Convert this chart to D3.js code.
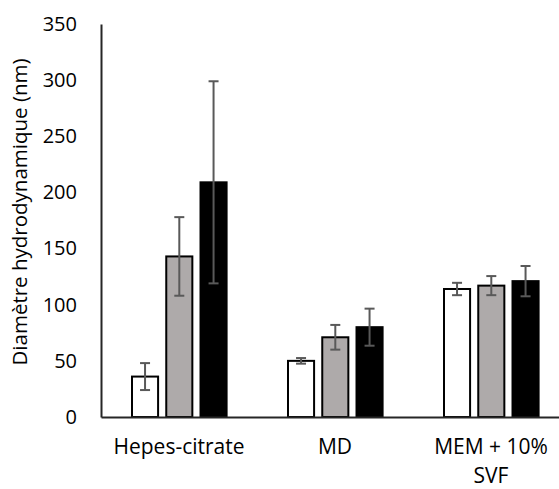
<!DOCTYPE html>
<html>
<head>
	<meta charset="utf-8">
	<title>Diametre hydrodynamique</title>
	<script src="https://d3js.org/d3.v7.min.js"></script>
	<style>
		body { margin: 0; background: #fff; }
		text { font-family: "Open Sans", sans-serif; fill: #000; }
	</style>
</head>
<body>
<script>
	// donnees
	var categories = ["Hepes-citrate", "MD", "MEM + 10% SVF"];
	var series = ["blanc", "gris", "noir"];
	var seriesColors = ["#ffffff", "#aeaaaa", "#000000"];
	var values = [
		[36, 50, 114],
		[143, 71, 117],
		[209, 80, 121]
	];
	var errors = [
		[12, 2.5, 5.5],
		[35, 11, 8.5],
		[90, 16.5, 13.5]
	];
	var yTicks = [0, 50, 100, 150, 200, 250, 300, 350];

	var svgWidth = 559, svgHeight = 489;

	var svg = d3.select("body")
		.append("svg")
		.attr("width", svgWidth)
		.attr("height", svgHeight);

	var x = d3.scaleBand().domain(categories).range([101, 569]);
	var xs = d3.scaleBand().domain(series).range([30, 126.6]).paddingInner(0.18);
	var y = d3.scaleLinear().domain([0, 350]).range([417, 24]);

	// axe y
	var yAxis = d3.axisLeft(y).tickValues(yTicks).tickSizeInner(0).tickSizeOuter(0).tickPadding(24);
	var gy = svg.append("g")
		.attr("transform", "translate(101,0)")
		.call(yAxis);
	gy.select(".domain").attr("stroke", "#262626").attr("stroke-width", 2);
	gy.selectAll("text").style("font-size", "20px").attr("fill", "#000");

	// titre de l'axe y
	svg.append("text")
		.attr("transform", "translate(27,212) rotate(-90)")
		.attr("text-anchor", "middle")
		.style("font-size", "20.5px")
		.text("Diamètre hydrodynamique (nm)");

	// barres
	series.forEach(function(s, i) {
		var g = svg.append("g");
		g.selectAll("rect")
			.data(categories)
			.enter().append("rect")
			.attr("x", function(c) { return x(c) + xs(s) + 1; })
			.attr("y", function(c, j) { return y(values[i][j]); })
			.attr("width", xs.bandwidth() - 2)
			.attr("height", function(c, j) { return y(0) - y(values[i][j]); })
			.attr("fill", seriesColors[i])
			.attr("stroke", "#000")
			.attr("stroke-width", 2);

		// barres d'erreur
		var eg = svg.append("g").attr("stroke", "#595959").attr("stroke-width", 2);
		categories.forEach(function(c, j) {
			var cx = x(c) + xs(s) + xs.bandwidth() / 2;
			var lo = y(values[i][j] - errors[i][j]), hi = y(values[i][j] + errors[i][j]);
			eg.append("line").attr("x1", cx).attr("x2", cx).attr("y1", lo).attr("y2", hi);
			eg.append("line").attr("x1", cx - 5).attr("x2", cx + 5).attr("y1", lo).attr("y2", lo);
			eg.append("line").attr("x1", cx - 5).attr("x2", cx + 5).attr("y1", hi).attr("y2", hi);
		});
	});

	// axe x
	var xAxis = d3.axisBottom(x).tickSize(0).tickSizeOuter(0).tickPadding(22);
	var gx = svg.append("g")
		.attr("transform", "translate(0,417)")
		.call(xAxis);
	gx.select(".domain").attr("stroke", "#262626").attr("stroke-width", 2);
	gx.selectAll("text").style("font-size", "21px").attr("fill", "#000").call(wrap, 140);

	function wrap(texts, w) {
		texts.each(function() {
			var t = d3.select(this), words = t.text().split(" "), line = [];
			t.text(null);
			var ts = t.append("tspan").attr("x", 0);
			words.forEach(function(wd) {
				line.push(wd);
				ts.text(line.join(" "));
				if (ts.node().getComputedTextLength() > w && line.length > 1) {
					line.pop();
					ts.text(line.join(" "));
					line = [wd];
					ts = t.append("tspan").attr("x", 0).attr("dy", "1.38em").text(wd);
				}
			});
		});
	}
</script>
</body>
</html>
